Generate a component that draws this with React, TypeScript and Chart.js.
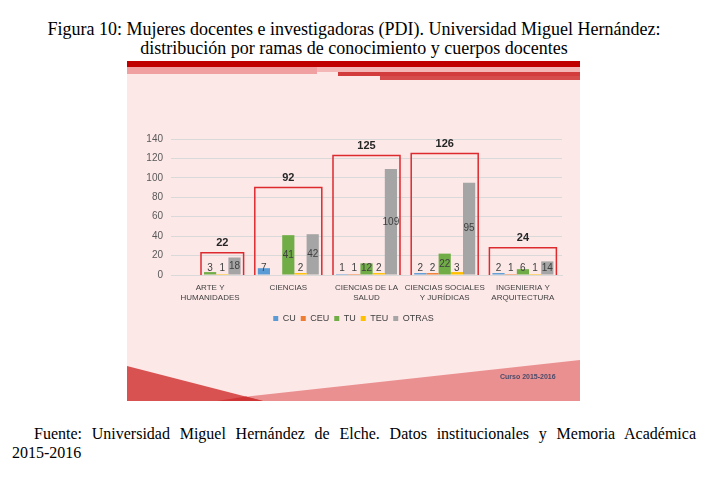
import { useEffect, useRef } from "react";
import { Chart, registerables } from "chart.js";

Chart.register(...registerables);

const categories = [
  ["ARTE Y", "HUMANIDADES"],
  ["CIENCIAS"],
  ["CIENCIAS DE LA", "SALUD"],
  ["CIENCIAS SOCIALES", "Y JURÍDICAS"],
  ["INGENIERIA Y", "ARQUITECTURA"],
];
const seriesNames = ["CU", "CEU", "TU", "TEU", "OTRAS"];
const cu = [0, 7, 1, 2, 2];
const ceu = [0, 0, 1, 2, 1];
const tu = [3, 41, 12, 22, 6];
const teu = [1, 2, 2, 3, 1];
const otras = [18, 42, 109, 95, 14];
const totals = [22, 92, 125, 126, 24];
const boxTops = [23, 90, 123, 125, 28];
const boxFirstSeries = [2, 0, 0, 0, 0];

const seriesColors = ["#5b9bd5", "#ed7d31", "#70ad47", "#ffc000", "#a5a5a5"];
const FONT = "'Liberation Sans', Arial, sans-serif";

const backgroundPlugin = {
  id: "bgDecor",
  beforeDraw(chart: any) {
    const ctx = chart.ctx;
    const w = chart.width;
    const h = chart.height;
    ctx.save();
    ctx.fillStyle = "#fde8e8";
    ctx.fillRect(0, 0, w, h);
    // top stripes
    ctx.fillStyle = "#c00000";
    ctx.fillRect(0, 0, w, 6);
    ctx.fillStyle = "#f0a0a0";
    ctx.fillRect(0, 6, 190, 7);
    ctx.fillStyle = "#f5b6b6";
    ctx.fillRect(190, 6, w - 190, 5);
    ctx.fillStyle = "#d23c3c";
    ctx.fillRect(211, 11, w - 211, 4);
    ctx.fillStyle = "#d64b4b";
    ctx.fillRect(253, 15, w - 253, 4);
    // bottom shapes
    ctx.fillStyle = "#eb9090";
    ctx.beginPath();
    ctx.moveTo(90, h);
    ctx.lineTo(125, 335);
    ctx.lineTo(w, 299);
    ctx.lineTo(w, h);
    ctx.closePath();
    ctx.fill();
    ctx.fillStyle = "#d95252";
    ctx.beginPath();
    ctx.moveTo(0, 305);
    ctx.lineTo(136, h);
    ctx.lineTo(0, h);
    ctx.closePath();
    ctx.fill();
    ctx.fillStyle = "#cf3535";
    ctx.beginPath();
    ctx.moveTo(90, h);
    ctx.lineTo(119, 335.6);
    ctx.lineTo(136, h);
    ctx.closePath();
    ctx.fill();
    ctx.restore();
  },
};

const annotationPlugin = {
  id: "annot",
  afterDatasetsDraw(chart: any) {
    const ctx = chart.ctx;
    const yScale = chart.scales.y;
    const base = yScale.getPixelForValue(0);
    ctx.save();
    // value labels
    ctx.font = `10px ${FONT}`;
    ctx.fillStyle = "#404040";
    ctx.textAlign = "center";
    ctx.textBaseline = "middle";
    chart.data.datasets.forEach((ds: any, di: number) => {
      const meta = chart.getDatasetMeta(di);
      meta.data.forEach((bar: any, i: number) => {
        const v = ds.data[i];
        if (!v) return;
        const cy = Math.min((bar.y + bar.base) / 2, base - 7);
        ctx.fillText(String(v), bar.x, cy);
      });
    });
    // boxes and totals
    const lastMeta = chart.getDatasetMeta(chart.data.datasets.length - 1);
    totals.forEach((t, i) => {
      const firstBar = chart.getDatasetMeta(boxFirstSeries[i]).data[i];
      const lastBar = lastMeta.data[i];
      const left = firstBar.x - firstBar.width / 2 - 3;
      const right = lastBar.x + lastBar.width / 2 + 3;
      const top = yScale.getPixelForValue(boxTops[i]);
      ctx.strokeStyle = "#dc2a2f";
      ctx.lineWidth = 1.5;
      ctx.beginPath();
      ctx.moveTo(left, base);
      ctx.lineTo(left, top);
      ctx.lineTo(right, top);
      ctx.lineTo(right, base);
      ctx.stroke();
      ctx.font = `bold 11px ${FONT}`;
      ctx.fillStyle = "#262626";
      ctx.fillText(String(t), (left + right) / 2, top - 10);
    });
    ctx.restore();
  },
};

export default function App() {
  const canvasRef = useRef<HTMLCanvasElement | null>(null);

  useEffect(() => {
    if (!canvasRef.current) return;
    const values = [cu, ceu, tu, teu, otras];
    const chart = new Chart(canvasRef.current, {
      type: "bar",
      data: {
        labels: categories as any,
        datasets: seriesNames.map((name, i) => ({
          label: name,
          data: values[i],
          backgroundColor: seriesColors[i],
          borderWidth: 0,
          categoryPercentage: 0.78,
          barPercentage: 1,
        })),
      },
      options: {
        animation: false,
        responsive: true,
        maintainAspectRatio: false,
        events: [],
        layout: { padding: { top: 78, left: 0, right: 0, bottom: 68 } },
        plugins: {
          tooltip: { enabled: false },
          legend: {
            position: "bottom",
            labels: {
              boxWidth: 5,
              boxHeight: 5,
              padding: 5,
              color: "#404040",
              font: { family: FONT, size: 9 },
            },
          },
        },
        scales: {
          x: {
            grid: { display: false, drawTicks: false },
            border: { display: true, color: "#d9d9d9" },
            ticks: {
              padding: 7,
              color: "#404040",
              maxRotation: 0,
              autoSkip: false,
              font: { family: FONT, size: 8, lineHeight: 1.35 },
            },
            afterFit: (s: any) => {
              s.height = 34;
            },
          },
          y: {
            min: 0,
            max: 140,
            ticks: {
              stepSize: 20,
              padding: 8,
              color: "#595959",
              font: { family: FONT, size: 10 },
            },
            grid: { color: "#d9d9d9", drawTicks: false },
            border: { display: false },
            afterFit: (s: any) => {
              s.width = 44;
            },
          },
          yR: {
            position: "right",
            display: true,
            grid: { display: false, drawTicks: false },
            border: { display: false },
            ticks: { display: false },
            afterFit: (s: any) => {
              s.width = 18;
            },
          },
        },
      },
      plugins: [backgroundPlugin, annotationPlugin],
    } as any);
    return () => chart.destroy();
  }, []);

  return (
    <div
      style={{
        position: "absolute",
        left: 0,
        top: 0,
        width: 726,
        height: 480,
        background: "#ffffff",
        fontFamily: "'Liberation Serif', 'Times New Roman', serif",
        color: "#000",
      }}
    >
      <div
        style={{
          position: "absolute",
          left: 12,
          top: 20,
          width: 684,
          textAlign: "center",
          fontSize: 18,
          lineHeight: "19px",
        }}
      >
        Figura 10: Mujeres docentes e investigadoras (PDI). Universidad Miguel Hernández:
        <br />
        distribución por ramas de conocimiento y cuerpos docentes
      </div>
      <div style={{ position: "absolute", left: 127, top: 61, width: 453, height: 340 }}>
        <canvas ref={canvasRef} />
        <div
          style={{
            position: "absolute",
            left: 373,
            top: 312,
            fontFamily: FONT,
            fontWeight: "bold",
            fontSize: 7,
            color: "#4b4b6b",
            whiteSpace: "nowrap",
          }}
        >
          Curso 2015-2016
        </div>
      </div>
      <div
        style={{
          position: "absolute",
          left: 12,
          top: 424,
          width: 684,
          fontSize: 16,
          lineHeight: "19px",
        }}
      >
        <div style={{ textAlign: "justify", textAlignLast: "justify", textIndent: 22 }}>
          Fuente: Universidad Miguel Hernández de Elche. Datos institucionales y Memoria Académica
        </div>
        <div>2015-2016</div>
      </div>
    </div>
  );
}
